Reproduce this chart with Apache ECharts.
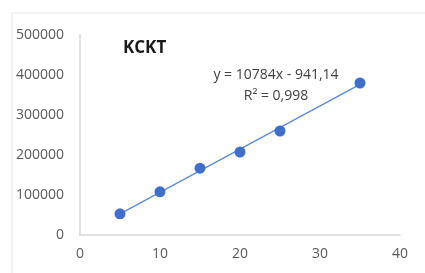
<!DOCTYPE html>
<html>
<head>
<meta charset="utf-8">
<script src="https://cdn.jsdelivr.net/npm/echarts@6/dist/echarts.min.js"></script>
<style>
  html, body { margin: 0; padding: 0; background: #fff; }
  #chart { width: 425px; height: 273px; }
</style>
</head>
<body>
<div id="chart"></div>
<script>
// 数据
const concentrations = [5, 10, 15, 20, 25, 35]
const areas = [53000, 108000, 167000, 207500, 260000, 380000]
// 趋势线端点 (y = 10784x - 941,14)
const trendPoints = [[5, 52979], [35, 376499]]
const xTicks = [0, 10, 20, 30, 40]
const yTicks = [0, 100000, 200000, 300000, 400000, 500000]

const chartTitle = 'KCKT'
const equationText = 'y = 10784x - 941,14'
const r2Text = 'R² = 0,998'

let myChart = echarts.init(document.getElementById('chart'))
let font = '"Open Sans", "Liberation Sans", sans-serif'
let option = {
  animation: false,
  textStyle: { fontFamily: font },
  grid: { left: 80, right: 25, top: 35, bottom: 38 },
  xAxis: {
    type: 'value',
    min: xTicks[0],
    max: xTicks[xTicks.length - 1],
    interval: 10,
    splitLine: { show: false },
    axisTick: { show: false },
    axisLine: { show: true, lineStyle: { color: '#d9d9d9', width: 1.5 } },
    axisLabel: { color: '#595959', fontSize: 14, margin: 12, fontFamily: font, formatter: v => String(v) }
  },
  yAxis: {
    type: 'value',
    min: yTicks[0],
    max: yTicks[yTicks.length - 1],
    interval: 100000,
    splitLine: { show: false },
    axisTick: { show: false },
    axisLine: { show: true, lineStyle: { color: '#d9d9d9', width: 1.5 } },
    axisLabel: { color: '#595959', fontSize: 14, margin: 16, fontFamily: font, formatter: v => String(v) }
  },
  graphic: [
    // 图表外框
    {
      type: 'rect',
      shape: { x: 12, y: 13, width: 430, height: 280 },
      style: { fill: 'none', stroke: '#e6e6e6', lineWidth: 1 },
      z: -1
    },
    {
      type: 'text',
      left: 123, top: 40,
      style: { text: chartTitle, font: 'bold 17px ' + font, fill: '#1a1a1a' }
    },
    {
      type: 'text',
      x: 276, y: 75,
      style: { text: equationText, font: '14px ' + font, fill: '#404040', align: 'center', verticalAlign: 'middle' }
    },
    {
      type: 'text',
      x: 276, y: 96,
      style: { text: r2Text, font: '14px ' + font, fill: '#404040', align: 'center', verticalAlign: 'middle' }
    }
  ],
  series: [
    {
      name: 'trend',
      type: 'line',
      data: trendPoints,
      symbol: 'none',
      lineStyle: { color: '#5b8bd6', width: 1.3 },
      z: 1
    },
    {
      name: 'KCKT',
      type: 'scatter',
      data: concentrations.map((x, i) => [x, areas[i]]),
      symbolSize: 11,
      itemStyle: { color: '#3f6fc8', opacity: 1 },
      z: 2
    }
  ]
}
myChart.setOption(option)
</script>
</body>
</html>
